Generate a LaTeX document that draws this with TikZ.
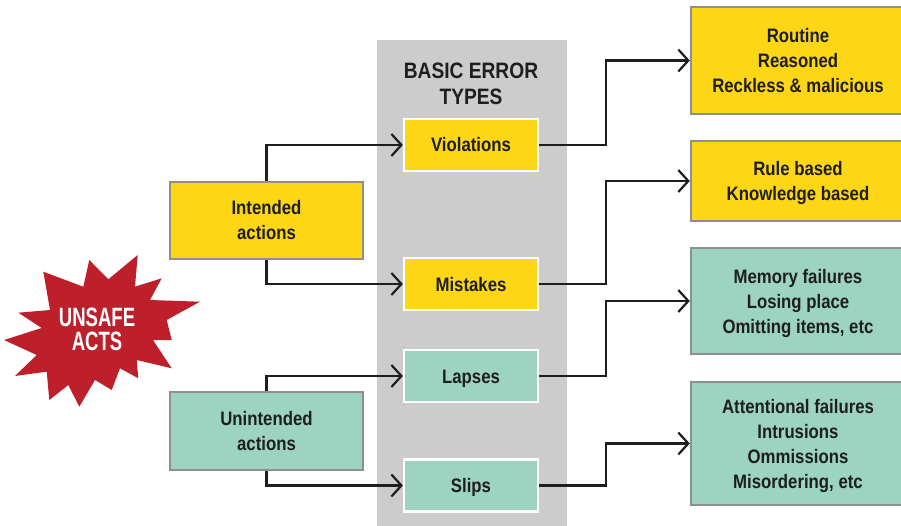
\documentclass[tikz,border=0pt]{standalone}
\usepackage{fontspec}
\setmainfont[FakeStretch=0.86]{Liberation Sans}
\newfontfamily\burstfont[FakeStretch=0.70]{Liberation Sans}
\usetikzlibrary{arrows.meta}
\definecolor{boxyellow}{HTML}{FDD716}
\definecolor{boxteal}{HTML}{9DD3C1}
\definecolor{column}{HTML}{CBCCCB}
\definecolor{rim}{HTML}{8E8F8E}
\definecolor{ink}{HTML}{1E1E1E}
\definecolor{burst}{HTML}{BE202B}

\begin{document}
\begin{tikzpicture}[x=1pt,y=-1pt,
  txt/.style={font=\fontsize{19.5}{25}\selectfont\bfseries, text=ink, align=center, inner sep=0pt},
  group/.style={txt, draw=rim, line width=2.4pt, minimum width=193pt},
  errtype/.style={txt, draw=white, line width=2.2pt, minimum width=134pt,
                  minimum height=52pt, text height=14pt, text depth=0pt},
  detail/.style={txt, draw=rim, line width=2.4pt, minimum width=214pt},
  conn/.style={draw=ink, line width=2.2pt, -{Straight Barb[length=10pt,width=22pt]}},
]
\useasboundingbox (0,0) rectangle (901,526);

% grey column behind the four basic error types
\fill[column] (377,40) rectangle (567,526);
\node[font=\fontsize{22.3}{26}\selectfont\bfseries, text=ink, align=center, inner sep=0pt]
  (title) at (471,84) {BASIC ERROR\\TYPES};

% starburst
\fill[burst] (43.3,271.7) -- (83.3,286.7) -- (89.3,260) -- (108.3,279.3)
  -- (137.7,255) -- (135,286.7) -- (161.7,278.3) -- (150,300)
  -- (200,301.7) -- (166.7,320) -- (171.7,340) -- (153,340)
  -- (171.7,368.3) -- (136.7,360) -- (138.3,378.3) -- (120,368.3)
  -- (111.7,390) -- (95,380) -- (79.3,406.7) -- (68.3,385)
  -- (49.3,400) -- (46.7,371.7) -- (15,376) -- (36.7,355)
  -- (4,340) -- (41.7,328) -- (18.3,312.7) -- (50,310) -- cycle;
\node[font=\burstfont\fontsize{26.5}{24}\selectfont\bfseries, text=white, align=center, inner sep=0pt]
  (unsafe) at (97,329.5) {UNSAFE\\ACTS};

% intention
\node[group, fill=boxyellow, minimum height=77pt] (intended) at (266.5,220.5) {Intended\\actions};
\node[group, fill=boxteal, minimum height=78pt] (unintended) at (266.5,431) {Unintended\\actions};

% basic error types
\node[errtype, fill=boxyellow] (violations) at (471,145) {Violations};
\node[errtype, fill=boxyellow] (mistakes) at (471,284) {Mistakes};
\node[errtype, fill=boxteal] (lapses) at (471,376) {Lapses};
\node[errtype, fill=boxteal] (slips) at (471,485.5) {Slips};

% sub-types
\node[detail, fill=boxyellow, minimum height=107pt] (routine) at (798,60.5)
  {Routine\\Reasoned\\Reckless \& malicious};
\node[detail, fill=boxyellow, minimum height=80pt] (rulebased) at (798,181)
  {Rule based\\\smash{Knowledge based}};
\node[detail, fill=boxteal, minimum height=106pt] (memory) at (798,301)
  {Memory failures\\Losing place\\\smash{Omitting items, etc}};
\node[detail, fill=boxteal, minimum height=123pt] (attention) at (798,443.5)
  {Attentional failures\\Intrusions\\Ommissions\\\smash{Misordering, etc}};

% connectors
\draw[conn] (intended.north) |- (violations.west);
\draw[conn] (intended.south) |- (mistakes.west);
\draw[conn] (unintended.north) |- (lapses.west);
\draw[conn] (unintended.south) |- (slips.west);

\draw[conn] (violations.east) -- ++(67,0) |- (routine.west);
\draw[conn] (mistakes.east) -- ++(67,0) |- (rulebased.west);
\draw[conn] (lapses.east) -- ++(67,0) |- (memory.west);
\draw[conn] (slips.east) -- ++(67,0) |- (attention.west);
\end{tikzpicture}
\end{document}
